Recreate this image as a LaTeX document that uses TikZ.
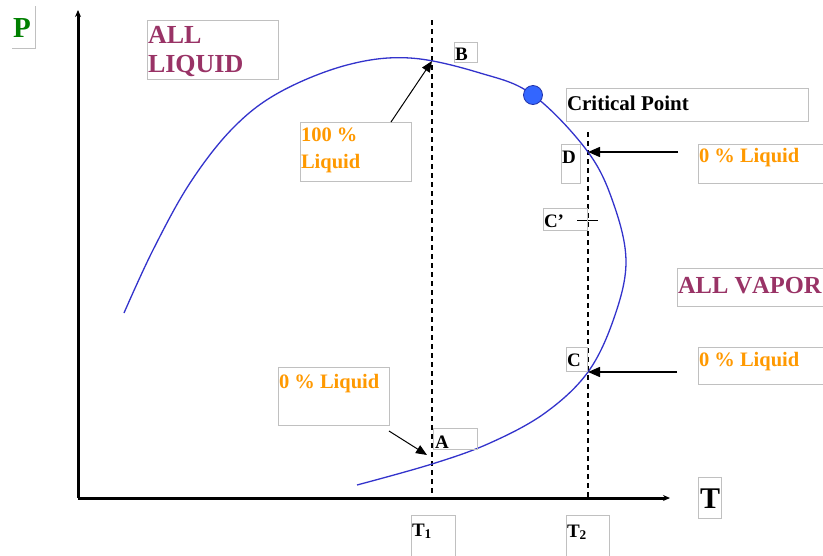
\documentclass[tikz,border=0pt]{standalone}
\usepackage{fontspec}
\setmainfont{Liberation Serif}[Kerning=Off]
\usetikzlibrary{arrows.meta}
\definecolor{maroon}{HTML}{993366}
\definecolor{orng}{HTML}{FF9900}
\definecolor{pgreen}{HTML}{008000}
\definecolor{curveblue}{HTML}{3333CC}
\definecolor{cpfill}{HTML}{3366FF}
\definecolor{cpline}{HTML}{2233AA}
\definecolor{boxgray}{HTML}{C0C0C0}
\tikzset{
  gbox/.style={draw=boxgray, line width=0.8pt, inner sep=0pt, outer sep=0pt, anchor=north west},
  txt/.style={inner sep=0pt, outer sep=0pt, anchor=base west},
  bigmaroon/.style={txt, text=maroon, font=\fontsize{26}{28}\selectfont\bfseries},
  orangetxt/.style={txt, text=orng, font=\fontsize{20.5}{24}\selectfont\bfseries},
  lettertxt/.style={txt, text=black, font=\fontsize{19}{22}\selectfont\bfseries},
  axis/.style={line width=3pt, -{Stealth[length=7pt,width=6pt]}},
  guide/.style={dashed, dash pattern=on 5pt off 4pt, line width=1.3pt},
  ptr/.style={-{Triangle[length=11pt,width=9pt]}, line width=1pt},
  hptr/.style={-{Triangle[length=12pt,width=10pt]}, line width=1.5pt},
}
\begin{document}
\begin{tikzpicture}[x=1pt,y=-1pt]
\clip (0,0) rectangle (823,555);
\fill[white] (0,0) rectangle (823,555);

% axes
\coordinate (origin) at (78,498);
\coordinate (ytop) at (78,10);
\coordinate (xend) at (670,498);
\draw[axis] (origin) -- (ytop);
\draw[axis] (origin) -- (xend);

% dashed isotherms
\coordinate (t1top) at (432,20);
\coordinate (t1bot) at (432,497);
\coordinate (t2top) at (588,132);
\coordinate (t2bot) at (588,497);
\draw[guide] (t1top) -- (t1bot);
\draw[guide] (t2top) -- (t2bot);

% points on the curve
\coordinate (ptB) at (432,61);
\coordinate (ptD) at (588,152);
\coordinate (ptC) at (588,372);
\coordinate (ptA) at (432,464);
\coordinate (cprime) at (588,220);

% phase envelope
\draw[curveblue, line width=1.3pt] plot[smooth, tension=0.6] coordinates {
 (124,313) (153,250) (190,183) (233,128) (280,92) (347,65) (410,58)
 (480,73) (533,95) (588,152) (614,205) (626,262) (614,318) (588,372)
 (545,413) (490,443) (432,464) (357,485)};

% critical point
\node[circle, fill=cpfill, draw=cpline, line width=0.8pt, minimum size=19pt, inner sep=0pt] (cp) at (533,95) {};

% C' tick
\draw[line width=1pt] ([xshift=-11pt]cprime) -- ([xshift=10pt]cprime);

% P label
\node[inner sep=0pt, outer sep=0pt, minimum width=23pt, minimum height=42pt, anchor=north west] (pbox) at (12,6) {};
\draw[boxgray, line width=0.8pt] (pbox.north east) -- (pbox.south east) -- (pbox.south west);
\node[txt, text=pgreen, font=\fontsize{29}{32}\selectfont\bfseries] (ptxt) at (13,37) {P};

% ALL LIQUID
\node[gbox, minimum width=131pt, minimum height=59pt] (liqbox) at (147,20) {};
\node[bigmaroon] (liq1) at (148,43) {ALL};
\node[bigmaroon] (liq2) at (148,72) {LIQUID};

% B
\node[gbox, minimum width=23pt, minimum height=20pt] (bbox) at (454,42) {};
\node[lettertxt] (btxt) at (455,60) {B};

% 100 % Liquid
\node[gbox, minimum width=111pt, minimum height=59pt] (box100) at (300,122) {};
\node[orangetxt] (l100a) at (301,141) {100 \%};
\node[orangetxt] (l100b) at (301,168) {Liquid};
\draw[ptr] ([xshift=-20pt]box100.north east) -- (ptB);

% Critical Point
\node[gbox, minimum width=242pt, minimum height=33pt] (cpbox) at (566,88) {};
\node[lettertxt, font=\fontsize{21}{24}\selectfont\bfseries] (cptxt) at (567,110) {Critical Point};

% D
\node[gbox, minimum width=19pt, minimum height=39pt] (dbox) at (561,144) {};
\node[lettertxt] (dtxt) at (562,163) {D};

% upper right 0 % Liquid
\node[gbox, minimum width=140pt, minimum height=39pt] (upbox) at (698,144) {};
\node[orangetxt] (uptxt) at (699,162) {0 \% Liquid};
\coordinate (uptail) at (678,152);
\draw[hptr] (uptail) -- (ptD);

% C'
\node[gbox, minimum width=44pt, minimum height=22pt] (cpbox2) at (543,208) {};
\node[lettertxt] (cptxt2) at (544,227) {C’};

% ALL VAPOR
\node[gbox, minimum width=160pt, minimum height=38pt] (vapbox) at (677,268) {};
\node[bigmaroon, font=\fontsize{24.5}{28}\selectfont\bfseries] (vaptxt) at (678,293) {ALL VAPOR};

% C
\node[gbox, minimum width=21pt, minimum height=24pt] (cbox) at (566,347) {};
\node[lettertxt] (ctxt) at (567,366) {C};

% lower right 0 % Liquid
\node[gbox, minimum width=140pt, minimum height=37pt] (lrbox) at (698,347) {};
\node[orangetxt] (lrtxt) at (699,366) {0 \% Liquid};
\coordinate (lrtail) at (677,372);
\draw[hptr] (lrtail) -- (ptC);

% lower left 0 % Liquid
\node[gbox, minimum width=111pt, minimum height=58pt] (llbox) at (278,367) {};
\node[orangetxt] (lltxt) at (279,388) {0 \% Liquid};
\coordinate (arrA) at (427,455);
\draw[ptr] ([yshift=-6pt]llbox.south east) -- (arrA);

% A
\node[gbox, minimum width=44pt, minimum height=21pt] (abox) at (433,428) {};
\node[lettertxt] (atxt) at (435,448) {A};

% T1, T2, T
\node[gbox, minimum width=44pt, minimum height=50pt] (t1box) at (411,515) {};
\node[lettertxt] (t1txt) at (412,536) {T\textsubscript{1}};
\node[gbox, minimum width=43pt, minimum height=50pt] (t2box) at (566,515) {};
\node[lettertxt] (t2txt) at (567,537) {T\textsubscript{2}};
\node[gbox, minimum width=23pt, minimum height=41pt] (tbox) at (698,477) {};
\node[txt, font=\fontsize{30}{34}\selectfont\bfseries] (ttxt) at (700,508) {T};
\end{tikzpicture}
\end{document}
